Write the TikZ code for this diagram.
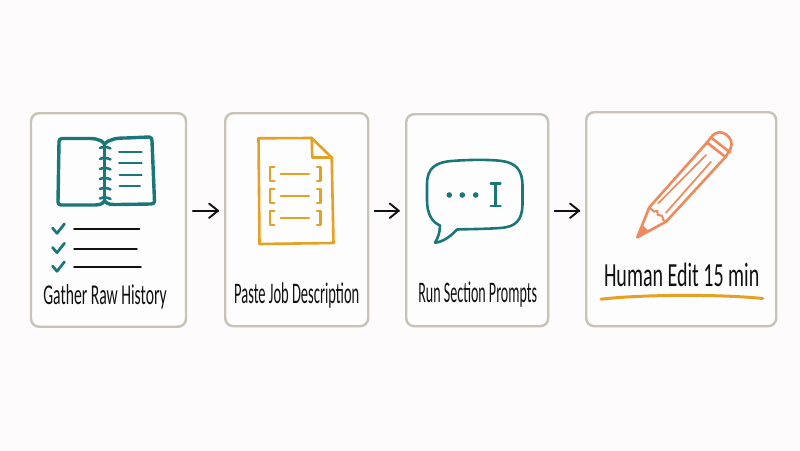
\documentclass[tikz,border=0pt]{standalone}
\usepackage{fontspec}
\setmainfont{Carlito}
\usetikzlibrary{calc}
\definecolor{bgc}{HTML}{FDFBFC}
\definecolor{cardc}{HTML}{C9C2B6}
\definecolor{tealc}{HTML}{1A7779}
\definecolor{ambc}{HTML}{E6A024}
\definecolor{coralc}{HTML}{EE8A5C}
\definecolor{inkc}{HTML}{111111}
\tikzset{
  x=1pt,y=-1pt,
  card/.style={draw=cardc,line width=2.4pt,rounded corners=8pt,fill=white!40!bgc,inner sep=0pt,anchor=north west},
  flow/.style={draw=inkc,line width=1.9pt,line cap=round},
  chev/.style={draw=inkc,line width=1.9pt,line cap=round,line join=round},
  tealln/.style={draw=tealc,line width=2.4pt,line cap=round,line join=round},
  ambln/.style={draw=ambc,line width=2.4pt,line cap=round,line join=round},
  coralln/.style={draw=coralc,line width=2.6pt,line cap=round,line join=round},
  inkln/.style={draw=inkc,line width=2.3pt,line cap=round},
  lab/.style={text=inkc,inner sep=0pt,font=\fontsize{23}{23}\selectfont},
}
\begin{document}
\begin{tikzpicture}
\useasboundingbox[fill=bgc] (0,0) rectangle (800,450);
% cards
\node[card,minimum width=155pt,minimum height=213.5pt] (c1) at (29.8,112) {};
\node[card,minimum width=143pt,minimum height=213pt] (c2) at (224,112) {};
\node[card,minimum width=142pt,minimum height=212pt] (c3) at (405,113) {};
\node[card,minimum width=190pt,minimum height=214pt] (c4) at (585,111) {};
\coordinate (row) at (0,210.7);
% connectors
\foreach \a/\b/\sa/\sb/\hx in {c1/c2/5.7/5.7/218,c2/c3/5.3/6/398.7,c3/c4/5.3/5.7/579}{
  \draw[flow,shorten <=\sa pt,shorten >=\sb pt] (\a.east |- row) -- (\b.west |- row);
  \draw[chev] (\hx-9,203.5) .. controls (\hx-5,207.5) .. (\hx,210.7) .. controls (\hx-5,214) .. (\hx-9,218);
}
% book
\draw[tealln,line width=3.4pt] (104.5,144) .. controls (100,138) and (92,138.5) .. (86,138.5) -- (62,138.5) .. controls (59.5,138.5) and (59,140) .. (59,142) -- (58,202) .. controls (58,204) and (59,205) .. (61,205) -- (92,205) .. controls (98,205) and (102,205) .. (104.5,201);
\draw[tealln,line width=3.4pt] (104.5,144) .. controls (110,138.5) and (118,138) .. (126,138) -- (149,137) .. controls (151.5,137) and (152,139) .. (152,141) -- (154.5,201) .. controls (154.5,203) and (153.5,204) .. (151,204) -- (118,204.5) .. controls (112,204.5) and (108,205) .. (104.5,201);
\draw[tealln] (104.5,144) -- (104.5,201);
\foreach \y in {148,159,169,179,189,198.5}{
  \draw[tealln,line width=2.6pt] (100,\y) .. controls (103,\y-1.5) and (107,\y-1.5) .. (110.5,\y+0.5);
}
\draw[tealln,line width=2pt] (119,152.3) -- (141.7,152.3);
\draw[tealln,line width=2pt] (119,163.3) -- (141.7,163.3);
\draw[tealln,line width=2pt] (119.5,174.5) -- (141.7,174.5);
\draw[tealln,line width=2pt] (119.5,185.7) -- (140,185.7);
% checklist
\foreach \y/\e in {229.3/139.3,248.7/136.7,267.3/140.7}{
  \draw[tealln,line width=2.7pt] (52.5,\y-1.3) -- (57,\y+4) -- (64.5,\y-5.5);
  \draw[inkln] (74.3,\y) -- (\e,\y);
}
\node[lab,xscale=.68,yscale=1.25] (t1) at (105,297) {Gather Raw History};
% document
\draw[ambln,line width=2.6pt] (258.5,138.3) -- (311.7,138) -- (331.7,157.5) -- (333.5,243) -- (259.5,244) -- cycle;
\draw[ambln,line width=2.6pt] (311.7,138) -- (312.3,157.5) -- (331.7,157.5);
\foreach \y/\d in {166.7/0,189/0.3,211/1}{
  \draw[ambln] (274.3,\y) -- (270,\y) -- (270,\y+14) -- (274.3,\y+14);
  \draw[ambln] (317,\y) -- (320.5,\y) -- (320.5,\y+14) -- (317,\y+14);
  \draw[ambln] (280.7,\y+7) -- (309,\y+7);
}
\node[lab,xscale=.63,yscale=1.3] (t2) at (296.7,295.5) {Paste Job Description};
% bubble
\draw[tealln,line width=2.6pt] (440,225.5) .. controls (432,222) and (427,214) .. (427,200)
 -- (427,184) .. controls (427,168) and (436,162) .. (452,161)
 .. controls (470,159.5) and (490,159.5) .. (502,161)
 .. controls (516,163) and (522.5,170) .. (522.5,186)
 -- (522.5,205) .. controls (522,220) and (516,227) .. (500,228)
 .. controls (486,229) and (472,229) .. (457,229.5)
 .. controls (451,236) and (443,242) .. (435,242.7)
 .. controls (438,238) and (440,232) .. (440,225.5) -- cycle;
\foreach \x in {449.3,462.3,475.7}{\fill[tealc] (\x,195) circle (2.8pt);}
\draw[tealln,line width=2.3pt] (490.7,183.5) -- (500.5,183.5);
\draw[tealln,line width=2.3pt] (495.5,183.5) -- (495.5,206);
\draw[tealln,line width=2.3pt] (490.7,206) -- (500.5,206);
\node[lab,xscale=.61,yscale=1.3] (t3) at (477.7,294.5) {Run Section Prompts};
% pencil
\fill[coralc] (637.3,237.3) -- (643.5,226) -- (648.5,231) -- cycle;
\draw[coralln] (637.3,237.3) -- (649.3,207.3) -- (707,142.5) -- (713,135)
 .. controls (717,131.5) and (722,131.5) .. (726,134.5)
 .. controls (731,138) and (733,143) .. (730.5,148.5)
 -- (725.5,157) -- (666,221.7) -- cycle;
\draw[coralln] (710.7,137.3) -- (730,152.3);
\draw[coralln] (706.7,142.3) -- (725.5,157);
\draw[coralln,line width=1.7pt] (706,155) -- (658.3,203.3);
\draw[coralln,line width=1.7pt] (711,161.7) -- (666,212.7);
\draw[coralln,line width=2pt] (649.3,207.3) -- (654,211.7) -- (657.3,210.7) -- (657.7,215) -- (662,215.7) -- (663.3,220) -- (666,221.7);
\node[lab,xscale=.77,yscale=1.3,font=\fontsize{26}{26}\selectfont] (t4) at (681.7,275) {Human Edit 15 min};
\draw[ambln,line width=3pt] (601,299.2) .. controls (640,294.5) and (720,294) .. (762.7,298.5);
\end{tikzpicture}
\end{document}
